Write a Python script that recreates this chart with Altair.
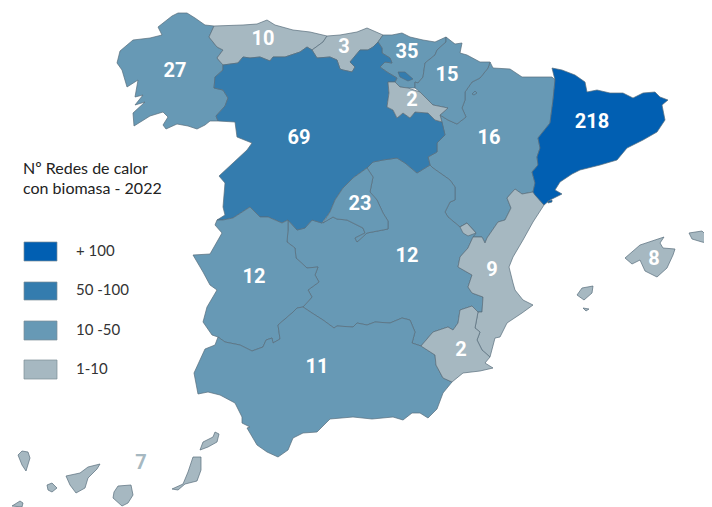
import altair as alt

band_names = ["+ 100", "50 -100", "10 -50", "1-10"]
band_colors = ["#015fb2", "#347cae", "#6799b5", "#a6b8c1"]
title_lines = ["Nº Redes de calor", "con biomasa - 2022"]
title_x = [23, 23]
title_y = [169, 189]
swatch_left = 24
swatch_right = 57
swatch_tops = [242, 282, 321, 360]
swatch_bottoms = [261, 300, 340, 379]
legend_label_x = 76
legend_label_y = [251, 290, 330, 369]

aragon = [(490,62),(493,68),(510,69),(522,77),(537,77),(552,77),(555,80),(553,100),(550,123),(538,138),(540,148),(537,157),(538,165),(532,172),(535,183),(533,192),(522,194),(515,189),(507,198),(511,208),(505,220),(498,222),(487,238),(485,243),(482,237),(473,237),(476,233),(467,223),(460,227),(448,217),(445,212),(450,202),(455,200),(455,187),(450,180),(433,168),(430,165),(428,157),(437,152),(437,143),(445,135),(442,123),(440,115),(448,120),(457,124),(466,117),(462,108),(465,100),(465,92),(472,82),(480,78),(488,68)]
galicia = [(205,25),(214,26),(209,37),(217,47),(223,50),(217,58),(223,65),(223,70),(215,77),(214,88),(223,90),(228,98),(225,106),(216,116),(218,121),(210,121),(205,125),(197,129),(188,126),(177,124),(166,129),(163,125),(168,117),(163,112),(150,116),(134,126),(133,113),(145,102),(135,105),(143,95),(135,97),(138,80),(127,87),(122,70),(117,63),(120,51),(133,40),(150,38),(162,35),(158,27),(172,16),(178,13),(187,13),(195,18)]
asturias = [(214,26),(243,25),(257,24),(267,20),(275,25),(293,30),(310,32),(327,36),(323,42),(312,50),(307,47),(300,52),(285,57),(273,57),(270,61),(260,57),(250,58),(243,57),(238,63),(223,65),(217,58),(223,50),(217,47),(209,37)]
cantabria = [(327,36),(340,35),(357,32),(367,28),(383,35),(378,42),(373,47),(368,50),(360,50),(350,62),(355,67),(352,72),(343,70),(340,69),(337,60),(330,57),(317,58),(312,50),(323,42)]
basque = [(383,35),(392,35),(402,33),(410,37),(423,40),(435,42),(446,37),(446,42),(437,50),(435,55),(425,63),(423,77),(418,83),(415,82),(415,88),(408,88),(400,87),(395,82),(397,78),(387,72),(380,67),(385,62),(392,63),(390,58),(382,53),(382,48),(378,42)]
navarra = [(446,37),(455,44),(462,43),(460,53),(467,55),(480,62),(490,62),(488,68),(480,78),(472,82),(465,92),(465,100),(462,108),(466,117),(457,124),(448,120),(440,115),(448,108),(433,105),(420,92),(415,88),(415,82),(418,83),(423,77),(425,63),(435,55),(437,50),(446,42)]
navarra_enclave = [(472,94),(475,91),(477,93),(474,95)]
rioja = [(388,82),(395,82),(400,87),(408,88),(420,92),(433,105),(448,108),(440,115),(442,122),(435,120),(428,113),(415,112),(410,118),(403,113),(397,118),(393,110),(387,107),(389,93)]
cyl = [(216,116),(218,121),(235,122),(237,137),(252,143),(247,150),(233,163),(219,176),(225,183),(223,207),(225,215),(217,220),(223,220),(233,218),(250,207),(260,217),(268,217),(282,223),(288,220),(297,230),(305,228),(312,220),(322,223),(330,212),(335,200),(343,188),(353,178),(367,168),(373,162),(383,160),(397,158),(405,163),(417,173),(430,165),(428,157),(437,152),(437,143),(445,135),(442,122),(435,120),(428,113),(415,112),(410,118),(403,113),(397,118),(393,110),(387,107),(389,93),(388,82),(395,82),(397,78),(387,72),(380,67),(385,62),(392,63),(390,58),(382,53),(382,48),(378,42),(373,47),(368,50),(360,50),(350,62),(355,67),(352,72),(343,70),(340,69),(337,60),(330,57),(317,58),(312,50),(307,47),(300,52),(285,57),(273,57),(270,61),(260,57),(250,58),(243,57),(238,63),(223,65),(223,70),(215,77),(214,88),(223,90),(228,98),(225,106)]
trevino = [(398,72),(405,72),(413,79),(408,81),(400,77)]
madrid = [(367,168),(373,177),(370,192),(377,200),(383,213),(388,221),(388,229),(367,233),(357,242),(355,238),(365,233),(363,228),(347,220),(337,219),(333,217),(323,223),(330,212),(335,200),(343,188),(353,178)]
clm = [(288,220),(297,230),(305,228),(312,220),(322,223),(333,217),(337,219),(347,220),(363,228),(365,233),(355,238),(357,242),(367,233),(388,229),(388,221),(383,213),(377,200),(370,192),(373,177),(367,168),(373,162),(383,160),(397,158),(405,163),(417,173),(430,165),(433,168),(450,180),(455,187),(455,200),(450,202),(445,212),(448,217),(460,227),(467,223),(476,233),(473,237),(468,248),(460,257),(458,267),(472,275),(468,287),(472,293),(483,297),(482,312),(478,312),(472,306),(460,310),(458,323),(453,330),(448,327),(433,332),(421,346),(412,343),(415,332),(410,320),(402,318),(390,323),(375,322),(367,325),(357,323),(353,327),(337,326),(334,328),(323,320),(312,313),(303,307),(312,297),(308,290),(319,282),(315,275),(318,267),(307,268),(296,258),(295,248),(287,242),(288,230)]
extremadura = [(217,220),(223,220),(233,218),(250,207),(260,217),(268,217),(282,223),(288,220),(288,230),(287,242),(295,248),(296,258),(307,268),(318,267),(315,275),(319,282),(308,290),(312,297),(303,307),(297,308),(292,313),(278,325),(280,339),(273,343),(272,338),(266,340),(263,347),(252,351),(240,345),(225,342),(218,337),(212,335),(203,322),(207,307),(217,290),(210,285),(203,272),(193,255),(210,254),(222,233),(215,225)]
andalusia = [(303,307),(312,313),(323,320),(334,328),(337,326),(353,327),(357,323),(367,325),(375,322),(390,323),(402,318),(410,320),(415,332),(412,343),(421,346),(435,355),(436,365),(443,378),(452,382),(443,393),(437,409),(428,418),(420,413),(412,413),(403,420),(393,417),(372,419),(353,417),(330,419),(317,432),(303,433),(293,438),(288,450),(278,457),(267,452),(257,445),(247,428),(250,427),(242,423),(242,417),(235,403),(220,395),(208,392),(198,394),(194,373),(205,349),(215,345),(218,337),(225,342),(240,345),(252,351),(263,347),(266,340),(272,338),(273,343),(280,339),(278,325),(292,313),(297,308)]
murcia = [(421,346),(433,332),(448,327),(453,330),(458,323),(460,310),(472,306),(478,312),(475,328),(480,332),(477,340),(482,350),(490,357),(485,363),(493,368),(480,371),(463,373),(452,382),(443,378),(436,365),(435,355)]
valencia = [(515,189),(522,194),(533,192),(544,205),(533,222),(523,240),(513,257),(509,267),(513,283),(515,290),(523,300),(533,305),(522,313),(507,323),(500,337),(495,338),(490,357),(482,350),(477,340),(480,332),(475,328),(478,312),(482,312),(483,297),(472,293),(468,287),(472,275),(458,267),(460,257),(468,248),(473,237),(482,237),(485,243),(487,238),(498,222),(505,220),(511,208),(507,198)]
rincon = [(460,227),(467,223),(476,233),(468,236),(463,233)]
catalonia = [(552,68),(562,70),(575,75),(585,82),(587,92),(597,90),(610,93),(623,93),(633,98),(643,93),(655,92),(660,97),(668,100),(662,105),(665,120),(657,132),(643,140),(627,148),(617,160),(600,165),(580,170),(572,174),(560,182),(555,190),(562,194),(550,200),(544,205),(535,195),(533,192),(535,183),(532,172),(538,165),(537,157),(540,148),(538,138),(550,123),(553,100),(555,80)]
cat_islet = [(548,201),(552,200),(552,202),(548,203)]
mallorca = [(625,258),(640,245),(658,239),(664,237),(660,243),(663,248),(675,249),(673,255),(667,268),(657,277),(645,271),(640,260),(632,264)]
menorca = [(689,233),(702,231),(708,237),(712,244),(702,242),(692,239)]
ibiza = [(577,295),(582,288),(593,286),(592,293),(584,300)]
formentera = [(583,308),(589,309),(586,311)]
la_palma = [(18,455),(22,451),(28,452),(30,458),(26,471),(22,465)]
gomera = [(47,485),(52,483),(57,488),(52,492),(48,490)]
tenerife = [(66,476),(80,473),(88,467),(100,464),(97,469),(88,478),(85,488),(76,493),(70,485)]
hierro = [(12,506),(20,501),(23,503),(22,507)]
gran_canaria = [(118,486),(131,485),(133,495),(128,503),(122,506),(113,498),(114,492)]
fuerteventura = [(193,457),(201,457),(201,470),(197,481),(185,484),(178,490),(172,489),(183,484),(188,472)]
lanzarote = [(200,450),(203,442),(213,437),(215,432),(219,434),(217,442),(208,447)]

regions = [
    ("Aragón", 16, [aragon]),
    ("Galicia", 27, [galicia]),
    ("Asturias", 10, [asturias]),
    ("Cantabria", 3, [cantabria]),
    ("País Vasco", 35, [basque]),
    ("Navarra", 15, [navarra, navarra_enclave]),
    ("Castilla-La Mancha", 12, [clm]),
    ("Castilla y León", 69, [cyl, trevino]),
    ("La Rioja", 2, [rioja]),
    ("Madrid", 23, [madrid]),
    ("Extremadura", 12, [extremadura]),
    ("Andalucía", 11, [andalusia]),
    ("Valencia", 9, [valencia, rincon]),
    ("Murcia", 2, [murcia]),
    ("Cataluña", 218, [catalonia, cat_islet]),
    ("Baleares", 8, [mallorca, menorca, ibiza, formentera]),
    ("Canarias", 7, [la_palma, gomera, tenerife, hierro, gran_canaria, fuerteventura, lanzarote]),
]

label_names = ["Asturias","Cantabria","País Vasco","Galicia","Navarra","La Rioja","Castilla y León","Cataluña","Aragón","Madrid","Extremadura","Castilla-La Mancha","Valencia","Baleares","Murcia","Andalucía","Canarias"]
label_x = [263,344,407,175,447,412,299,592,489,360,254,407,492,654,461,317,141]
label_y = [39,47,52,71,75,100,138,122,138,204,277,256,270,259,350,367,463]


def band(v):
    return band_names[0] if v > 100 else band_names[1] if v > 50 else band_names[2] if v > 10 else band_names[3]


def ring(points):
    pts = [list(p) for p in points]
    return pts + [pts[0]]


features = [
    {"type": "Feature", "properties": {"name": n, "count": c, "band": band(c)},
     "geometry": {"type": "MultiPolygon", "coordinates": [[ring(r)] for r in rings]}}
    for n, c, rings in regions
]
swatch_features = [
    {"type": "Feature", "properties": {"band": b},
     "geometry": {"type": "Polygon", "coordinates": [ring([(swatch_left, t), (swatch_right, t), (swatch_right, u), (swatch_left, u)])]}}
    for b, t, u in zip(band_names, swatch_tops, swatch_bottoms)
]

counts = {n: c for n, c, _ in regions}
label_rows = [{"name": n, "count": str(counts[n]), "x": x, "y": y, "canary": n == "Canarias"}
              for n, x, y in zip(label_names, label_x, label_y)]
legend_rows = [{"t": b, "x": legend_label_x, "y": y} for b, y in zip(band_names, legend_label_y)]
title_rows = [{"t": t, "x": x, "y": y} for t, x, y in zip(title_lines, title_x, title_y)]

projection = alt.Projection(type="identity", scale=1, translate=[-8, -8])
color = alt.Color("properties.band:N", scale=alt.Scale(domain=band_names, range=band_colors), legend=None)

map_layer = alt.Chart(alt.Data(values=features)).mark_geoshape(stroke="#586d7b", strokeWidth=0.7).encode(color=color)
swatches = alt.Chart(alt.Data(values=swatch_features)).mark_geoshape(stroke="#7d8d97", strokeWidth=0.7).encode(color=color)
numbers = alt.Chart(alt.Data(values=label_rows)).mark_text(
    font="Roboto", fontWeight="bold", fontSize=20, baseline="middle", align="center"
).encode(
    longitude="x:Q", latitude="y:Q", text="count:N",
    color=alt.Color("canary:N", scale=alt.Scale(domain=[False, True], range=["#ffffff", "#a6b8c1"]), legend=None),
)
legend_text = alt.Chart(alt.Data(values=legend_rows)).mark_text(
    font="Lato", fontSize=15, align="left", baseline="middle", color="#333333"
).encode(longitude="x:Q", latitude="y:Q", text="t:N")
title_text = alt.Chart(alt.Data(values=title_rows)).mark_text(
    font="Lato", fontSize=16, align="left", baseline="middle", color="#222222"
).encode(longitude="x:Q", latitude="y:Q", text="t:N")

chart = alt.layer(map_layer, swatches, numbers, legend_text, title_text).resolve_scale(
    color="independent"
).properties(
    width=696, height=499, padding=0, autosize=alt.AutoSizeParams(type="none"),
    projection=projection, background="#ffffff",
).configure_view(stroke=None)

chart.save("out.html", embed_options={"renderer": "svg", "actions": False})
